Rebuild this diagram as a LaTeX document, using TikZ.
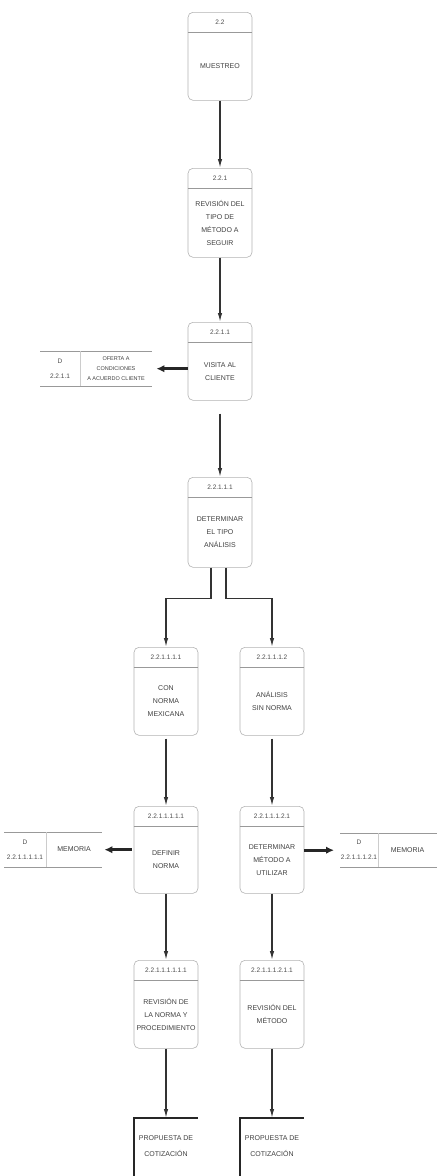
\documentclass[tikz,border=0pt]{standalone}
\usepackage{fontspec}
\setmainfont{Liberation Sans}
\usetikzlibrary{arrows.meta}
\newcommand\procbox[6]{%
  \node[pbox, minimum height={#4-#3}] (#1) at (#2,#3) {};
  \draw[hline] ([yshift=-20pt]#1.north west) -- ([yshift=-20pt]#1.north east);
  \node[idtxt] (#1id) at ([yshift=-10pt]#1.north) {#5};
  \path ([yshift=-20pt]#1.north) -- (#1.south) node[midway, txt] (#1t) {#6};
}
\newcommand\dstore[9]{%
  \node[minimum width={#4-#2}, minimum height={#6-#5}, anchor=north west, inner sep=0pt] (#1) at (#2,#5) {};
  \draw[sline] (#1.north west) -- (#1.north east) (#1.south west) -- (#1.south east);
  \draw[sdiv] (#3,#5) -- (#3,#6);
  \node[idtxt, align=center, font=\fontsize{6.5}{15}\selectfont] (#1id) at ({(#2+#3)/2},{(#5+#6)/2}) {#7};
  \node[txt, #9] (#1t) at ({(#3+#4)/2},{(#5+#6)/2}) {#8};
}
\begin{document}
\begin{tikzpicture}[x=1pt,y=-1pt,
  pbox/.style={draw=black!30, line width=0.6pt, rounded corners=5pt, minimum width=64pt, anchor=north, inner sep=0pt},
  hline/.style={draw=black!40, line width=0.6pt},
  sline/.style={draw=black!40, line width=0.6pt},
  sdiv/.style={draw=black!20, line width=0.5pt},
  idtxt/.style={font=\fontsize{6.5}{8}\selectfont, text=black!70, inner sep=0pt},
  txt/.style={font=\fontsize{7}{13}\selectfont, text=black!75, align=center, inner sep=0pt},
  smalltxt/.style={font=\fontsize{5.5}{10}\selectfont},
  flow/.style={draw=black!80, line width=1.3pt, -{Latex[length=9pt,width=4.5pt]}},
  bigflow/.style={draw=black!85, line width=2.6pt, -{Latex[length=8pt,width=7.5pt]}},
  ext/.style={draw=black!85, line width=1.8pt},
  exttxt/.style={font=\fontsize{7}{16}\selectfont, text=black!75, align=center, inner sep=0pt, minimum width=64pt, minimum height=56pt, anchor=north}
]
\useasboundingbox (0,0) rectangle (442,1176);

% main column
\procbox{B0}{220}{12}{100}{2.2}{MUESTREO}
\procbox{B1}{220}{168}{257}{2.2.1}{REVISIÓN DEL\\TIPO DE\\MÉTODO A\\SEGUIR}
\procbox{B2}{220}{322}{400}{2.2.1.1}{VISITA AL\\CLIENTE}
\procbox{B3}{220}{477}{567}{2.2.1.1.1}{DETERMINAR\\EL TIPO\\ANÁLISIS}

% left and right columns
\procbox{B4L}{166}{647}{735}{2.2.1.1.1.1}{CON\\NORMA\\MEXICANA}
\procbox{B4R}{272}{647}{735}{2.2.1.1.1.2}{ANÁLISIS\\SIN NORMA}
\procbox{B5L}{166}{806}{893}{2.2.1.1.1.1.1}{DEFINIR\\NORMA}
\procbox{B5R}{272}{806}{893}{2.2.1.1.1.2.1}{DETERMINAR\\MÉTODO A\\UTILIZAR}
\procbox{B6L}{166}{960}{1048}{2.2.1.1.1.1.1.1}{REVISIÓN DE\\LA NORMA Y\\PROCEDIMIENTO}
\procbox{B6R}{272}{960}{1048}{2.2.1.1.1.2.1.1}{REVISIÓN DEL\\MÉTODO}

% data stores
\dstore{S1}{40}{80}{152}{351}{386}{D\\2.2.1.1}{OFERTA A\\CONDICIONES\\A ACUERDO CLIENTE}{smalltxt}
\dstore{S2}{4}{46}{102}{832}{867}{D\\2.2.1.1.1.1.1}{MEMORIA}{}
\dstore{S3}{340}{378}{437}{833}{867}{D\\2.2.1.1.1.2.1}{MEMORIA}{}

% final entities
\node[exttxt] (P1) at (166,1118) {PROPUESTA DE\\COTIZACIÓN};
\node[exttxt] (P2) at (272,1118) {PROPUESTA DE\\COTIZACIÓN};
\draw[ext] ([yshift=-12pt]P1.south west) -- (P1.north west) -- (P1.north east);
\draw[ext] ([yshift=-12pt]P2.south west) -- (P2.north west) -- (P2.north east);

% flows
\draw[flow] (B0.south) -- (B1.north);
\draw[flow] (B1.south) -- (B2.north);
\draw[flow] ([yshift=-13pt]B2.south) -- (B3.north);
\draw[bigflow, shorten >=4pt] (S1.east -| B2.west) -- (S1.east);
\draw[flow] ([xshift=-9pt]B3.south) -- ++(0,31) -| (B4L.north);
\draw[flow] ([xshift=6pt]B3.south) -- ++(0,31) -| (B4R.north);
\draw[flow] ([yshift=-3pt]B4L.south) -- (B5L.north);
\draw[flow] ([yshift=-3pt]B4R.south) -- (B5R.north);
\draw[bigflow, shorten <=2pt, shorten >=2pt] (S2.east -| B5L.west) -- (S2.east);
\draw[bigflow, shorten >=6pt] (S3.west -| B5R.east) -- (S3.west);
\draw[flow] (B5L.south) -- (B6L.north);
\draw[flow] (B5R.south) -- (B6R.north);
\draw[flow] (B6L.south) -- (P1.north);
\draw[flow] (B6R.south) -- (P2.north);
\end{tikzpicture}
\end{document}
